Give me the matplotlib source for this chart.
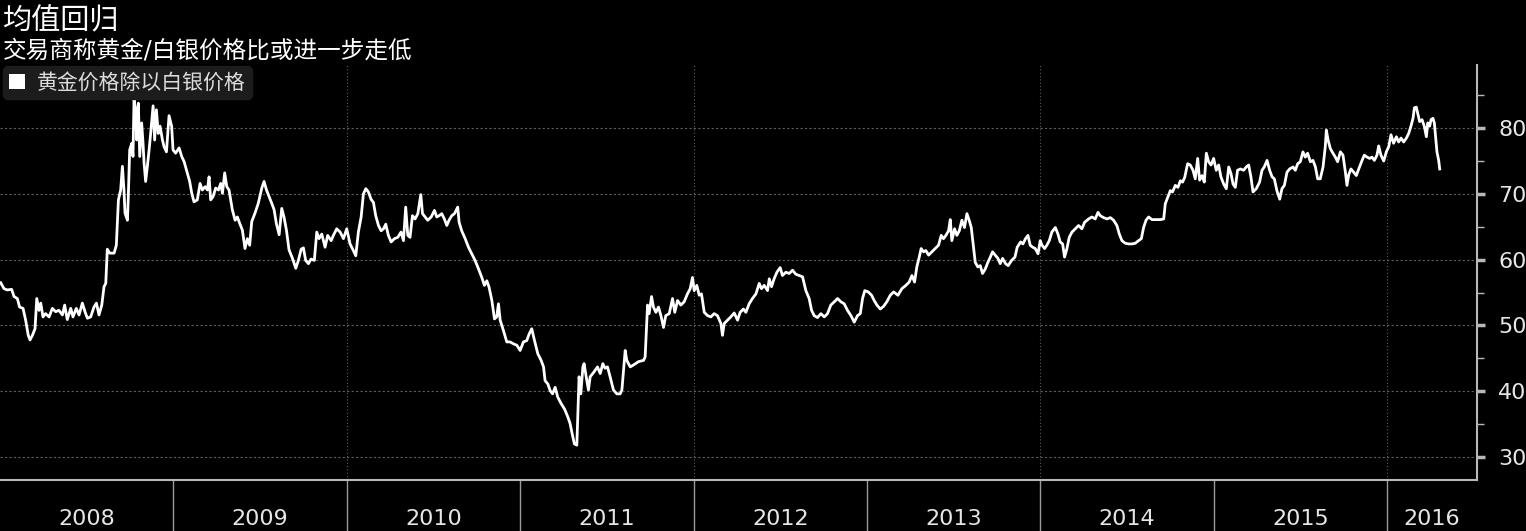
import matplotlib
matplotlib.use("Agg")
import matplotlib.pyplot as plt
from matplotlib.patches import Patch

plt.rcParams["font.family"] = ["DejaVu Sans", "Noto Sans CJK SC"]

title = "均值回归"
subtitle = "交易商称黄金/白银价格比或进一步走低"
series_name = "黄金价格除以白银价格"

# gold / silver price ratio (x in decimal years)
year_frac = [
    2008.004, 2008.023, 2008.042, 2008.067, 2008.081, 2008.100, 2008.113, 2008.133, 2008.148, 2008.163,
    2008.173, 2008.187, 2008.202, 2008.212, 2008.225, 2008.235, 2008.248, 2008.263, 2008.283, 2008.302,
    2008.321, 2008.340, 2008.360, 2008.373, 2008.388, 2008.408, 2008.421, 2008.440, 2008.456, 2008.475,
    2008.490, 2008.504, 2008.523, 2008.542, 2008.556, 2008.571, 2008.587, 2008.600, 2008.610, 2008.619,
    2008.633, 2008.658, 2008.671, 2008.683, 2008.696, 2008.706, 2008.715, 2008.721, 2008.735, 2008.740,
    2008.748, 2008.760, 2008.767, 2008.773, 2008.783, 2008.788, 2008.798, 2008.806, 2008.817, 2008.825,
    2008.831, 2008.840, 2008.850, 2008.860, 2008.869, 2008.883, 2008.892, 2008.902, 2008.913, 2008.923,
    2008.937, 2008.946, 2008.960, 2008.975, 2008.990, 2008.998,
    2009.013, 2009.033, 2009.048, 2009.062, 2009.081, 2009.094, 2009.106, 2009.119, 2009.138, 2009.154,
    2009.167, 2009.183, 2009.196, 2009.206, 2009.215, 2009.229, 2009.244, 2009.260, 2009.273, 2009.283,
    2009.296, 2009.308, 2009.321, 2009.340, 2009.356, 2009.369, 2009.383, 2009.398, 2009.413, 2009.427,
    2009.440, 2009.452, 2009.471, 2009.490, 2009.510, 2009.523, 2009.537, 2009.552, 2009.567, 2009.581,
    2009.594, 2009.610, 2009.625, 2009.638, 2009.652, 2009.667, 2009.687, 2009.706, 2009.721, 2009.737,
    2009.750, 2009.763, 2009.779, 2009.794, 2009.813, 2009.827, 2009.840, 2009.856, 2009.875, 2009.890,
    2009.910, 2009.923, 2009.942, 2009.962, 2009.981,
    2010.000, 2010.019, 2010.038, 2010.052, 2010.067, 2010.083, 2010.096, 2010.110, 2010.125, 2010.140,
    2010.154, 2010.167, 2010.183, 2010.198, 2010.212, 2010.225, 2010.240, 2010.256, 2010.275, 2010.294,
    2010.313, 2010.327, 2010.340, 2010.352, 2010.365, 2010.379, 2010.394, 2010.410, 2010.427, 2010.437,
    2010.452, 2010.467, 2010.487, 2010.506, 2010.519, 2010.533, 2010.548, 2010.563, 2010.577, 2010.590,
    2010.606, 2010.621, 2010.640, 2010.648, 2010.663, 2010.683, 2010.702, 2010.721, 2010.740, 2010.760,
    2010.779, 2010.794, 2010.808, 2010.821, 2010.837, 2010.852, 2010.865, 2010.875, 2010.885, 2010.904,
    2010.923, 2010.942, 2010.962, 2010.981,
    2011.000, 2011.019, 2011.038, 2011.052, 2011.067, 2011.083, 2011.102, 2011.121, 2011.135, 2011.144,
    2011.160, 2011.173, 2011.187, 2011.202, 2011.217, 2011.237, 2011.256, 2011.275, 2011.288, 2011.302,
    2011.313, 2011.327, 2011.333, 2011.340, 2011.350, 2011.362, 2011.369, 2011.381, 2011.394, 2011.404,
    2011.419, 2011.433, 2011.446, 2011.462, 2011.477, 2011.490, 2011.504, 2011.519, 2011.538, 2011.558,
    2011.577, 2011.587, 2011.606, 2011.615, 2011.635, 2011.654, 2011.683, 2011.712, 2011.721, 2011.735,
    2011.744, 2011.758, 2011.769, 2011.783, 2011.798, 2011.812, 2011.827, 2011.840, 2011.860, 2011.879,
    2011.892, 2011.908, 2011.927, 2011.946, 2011.965, 2011.981, 2011.994,
    2012.004, 2012.019, 2012.033, 2012.046, 2012.062, 2012.081, 2012.100, 2012.119, 2012.138, 2012.158,
    2012.167, 2012.177, 2012.196, 2012.215, 2012.235, 2012.254, 2012.269, 2012.288, 2012.302, 2012.321,
    2012.340, 2012.360, 2012.379, 2012.392, 2012.408, 2012.427, 2012.437, 2012.450, 2012.465, 2012.481,
    2012.500, 2012.513, 2012.533, 2012.552, 2012.571, 2012.590, 2012.610, 2012.629, 2012.648, 2012.667,
    2012.681, 2012.696, 2012.715, 2012.735, 2012.754, 2012.773, 2012.792, 2012.812, 2012.831, 2012.850,
    2012.869, 2012.888, 2012.908, 2012.927, 2012.946, 2012.962, 2012.975, 2012.988,
    2013.008, 2013.027, 2013.042, 2013.058, 2013.077, 2013.096, 2013.115, 2013.135, 2013.154, 2013.179,
    2013.202, 2013.225, 2013.244, 2013.260, 2013.275, 2013.288, 2013.302, 2013.313, 2013.327, 2013.340,
    2013.356, 2013.375, 2013.394, 2013.413, 2013.429, 2013.442, 2013.456, 2013.471, 2013.481, 2013.490,
    2013.506, 2013.519, 2013.533, 2013.548, 2013.563, 2013.577, 2013.590, 2013.602, 2013.615, 2013.625,
    2013.640, 2013.654, 2013.667, 2013.683, 2013.698, 2013.712, 2013.725, 2013.740, 2013.756, 2013.769,
    2013.783, 2013.800, 2013.815, 2013.835, 2013.854, 2013.867, 2013.887, 2013.900, 2013.915, 2013.929,
    2013.942, 2013.956, 2013.971, 2013.987,
    2014.000, 2014.010, 2014.025, 2014.038, 2014.052, 2014.067, 2014.087, 2014.102, 2014.115, 2014.129,
    2014.140, 2014.154, 2014.167, 2014.183, 2014.202, 2014.221, 2014.240, 2014.256, 2014.279, 2014.298,
    2014.317, 2014.333, 2014.346, 2014.365, 2014.385, 2014.404, 2014.423, 2014.442, 2014.456, 2014.471,
    2014.490, 2014.510, 2014.529, 2014.548, 2014.567, 2014.583, 2014.596, 2014.610, 2014.625, 2014.644,
    2014.667, 2014.692, 2014.712, 2014.721, 2014.737, 2014.750, 2014.763, 2014.779, 2014.794, 2014.808,
    2014.821, 2014.833, 2014.850, 2014.865, 2014.881, 2014.894, 2014.908, 2014.919, 2014.933, 2014.946,
    2014.958, 2014.971, 2014.985,
    2015.000, 2015.015, 2015.029, 2015.042, 2015.058, 2015.073, 2015.087, 2015.100, 2015.112, 2015.125,
    2015.138, 2015.154, 2015.173, 2015.188, 2015.202, 2015.215, 2015.227, 2015.246, 2015.265, 2015.279,
    2015.292, 2015.308, 2015.323, 2015.337, 2015.350, 2015.365, 2015.381, 2015.394, 2015.408, 2015.423,
    2015.438, 2015.458, 2015.471, 2015.485, 2015.500, 2015.515, 2015.529, 2015.542, 2015.558, 2015.573,
    2015.587, 2015.600, 2015.615, 2015.631, 2015.644, 2015.650, 2015.660, 2015.673, 2015.688, 2015.702,
    2015.715, 2015.731, 2015.746, 2015.760, 2015.769, 2015.779, 2015.792, 2015.808, 2015.823, 2015.837,
    2015.856, 2015.869, 2015.885, 2015.900, 2015.913, 2015.927, 2015.942, 2015.952, 2015.965, 2015.981,
    2015.996,
    2016.010, 2016.023, 2016.038, 2016.054, 2016.067, 2016.081, 2016.096, 2016.112, 2016.125, 2016.138,
    2016.150, 2016.158, 2016.169, 2016.177, 2016.188, 2016.202, 2016.215, 2016.227, 2016.235, 2016.246,
    2016.254, 2016.265, 2016.273, 2016.279, 2016.288, 2016.298, 2016.304,
]

ratio = [
    56.5, 55.6, 55.4, 55.5, 54.4, 54.1, 52.8, 52.6, 50.8, 48.5,
    47.8, 48.5, 49.5, 54.1, 52.3, 53.4, 51.3, 51.8, 51.3, 52.6,
    52.1, 52.3, 51.6, 53.1, 50.9, 52.6, 51.3, 52.6, 51.6, 53.4,
    52.1, 51.1, 51.3, 52.8, 53.4, 51.6, 53.1, 55.9, 56.4, 61.6,
    61.0, 61.0, 62.2, 69.1, 70.6, 74.2, 70.6, 67.1, 66.0, 69.6,
    76.7, 77.7, 75.7, 84.3, 82.8, 78.2, 83.8, 75.7, 80.8, 77.7,
    74.7, 71.9, 74.2, 76.7, 79.2, 83.4, 78.2, 82.8, 79.2, 80.3,
    78.2, 77.2, 76.4, 81.9, 80.3, 76.7,
    76.2, 77.0, 75.7, 74.9, 73.1, 71.9, 70.1, 68.8, 69.1, 71.6,
    70.6, 71.1, 70.6, 72.6, 69.1, 69.6, 70.9, 70.6, 71.6, 70.1,
    73.2, 71.1, 70.6, 67.6, 66.0, 66.5, 65.5, 64.5, 61.7, 63.2,
    62.2, 65.8, 67.1, 68.6, 70.9, 71.9, 70.6, 69.6, 68.6, 67.6,
    65.5, 63.8, 67.8, 66.5, 64.5, 61.5, 60.2, 58.7, 59.9, 61.6,
    61.8, 59.9, 59.4, 60.1, 59.9, 64.2, 63.2, 63.9, 61.9, 63.7,
    62.9, 63.7, 64.7, 64.2, 63.2,
    64.7, 62.4, 61.4, 60.6, 64.2, 66.5, 70.0, 70.8, 70.3, 69.2,
    68.7, 66.7, 65.2, 64.4, 64.7, 65.4, 63.7, 62.7, 63.2, 63.4,
    64.2, 62.9, 68.0, 63.7, 63.4, 66.7, 66.2, 67.0, 69.9, 67.0,
    66.5, 66.0, 66.5, 67.5, 66.5, 66.7, 67.0, 66.2, 65.2, 66.0,
    66.7, 67.0, 68.0, 65.7, 64.4, 63.2, 61.9, 60.9, 59.9, 58.6,
    57.3, 56.1, 56.8, 55.8, 53.8, 51.0, 51.3, 53.3, 50.8, 49.2,
    47.5, 47.5, 47.2, 47.0,
    46.2, 47.5, 47.7, 48.7, 49.5, 47.7, 45.7, 44.7, 43.7, 41.6,
    41.1, 40.1, 39.6, 40.6, 39.1, 38.1, 37.3, 36.1, 35.1, 33.3,
    32.0, 31.8, 36.6, 42.2, 39.6, 43.7, 44.2, 42.2, 40.2, 42.2,
    42.7, 43.2, 43.7, 42.7, 44.2, 43.5, 43.7, 42.2, 40.2, 39.6,
    39.6, 40.2, 46.2, 44.7, 43.7, 44.0, 44.5, 44.7, 45.2, 53.1,
    51.8, 54.4, 52.8, 52.0, 52.8, 51.5, 49.7, 51.5, 51.8, 54.1,
    52.0, 53.8, 53.1, 53.6, 54.8, 55.6, 57.3,
    55.3, 56.1, 54.6, 54.8, 52.0, 51.5, 51.3, 51.8, 51.5, 50.3,
    48.5, 50.3, 50.8, 51.3, 51.9, 50.8, 52.0, 52.5, 52.0, 53.3,
    54.1, 54.8, 56.4, 55.6, 56.1, 55.3, 57.1, 55.9, 57.1, 58.1,
    58.8, 57.6, 58.1, 57.9, 58.4, 57.8, 57.6, 57.4, 55.3, 54.1,
    52.3, 51.5, 51.2, 51.8, 51.3, 51.8, 53.1, 53.6, 54.1, 53.6,
    53.3, 52.3, 51.5, 50.5, 51.5, 51.8, 54.1, 55.3,
    55.1, 54.6, 53.8, 53.1, 52.5, 52.9, 53.6, 54.6, 55.1, 54.6,
    55.6, 56.1, 56.6, 57.6, 56.6, 58.9, 60.4, 61.7, 61.2, 61.4,
    60.7, 61.2, 61.7, 62.2, 63.7, 63.2, 63.7, 64.4, 66.1, 62.9,
    64.7, 63.7, 64.4, 66.0, 64.9, 67.0, 66.0, 64.9, 61.9, 59.6,
    58.9, 59.1, 57.9, 58.6, 59.6, 60.4, 61.2, 60.7, 60.2, 59.4,
    60.2, 59.4, 59.1, 59.9, 60.4, 61.9, 62.7, 62.4, 63.2, 63.7,
    62.2, 61.9, 61.7, 60.9,
    62.9, 62.2, 61.7, 62.2, 62.9, 64.2, 64.9, 63.9, 62.7, 62.4,
    60.4, 61.7, 63.4, 64.2, 64.7, 65.2, 64.7, 65.7, 66.2, 66.5,
    66.2, 67.2, 66.7, 66.4, 66.2, 66.4, 66.0, 65.2, 63.9, 62.9,
    62.5, 62.4, 62.4, 62.5, 62.9, 63.2, 64.9, 66.0, 66.5, 66.1,
    66.1, 66.1, 66.2, 68.5, 69.6, 70.5, 70.3, 71.3, 71.0, 72.0,
    71.8, 72.5, 74.6, 74.4, 73.6, 72.3, 75.4, 72.1, 72.8, 71.8,
    76.2, 74.9, 74.4,
    75.4, 73.6, 74.4, 72.6, 71.5, 70.8, 74.1, 73.1, 71.5, 71.0,
    73.6, 73.8, 73.6, 74.1, 74.4, 72.6, 70.3, 70.8, 71.8, 73.6,
    74.1, 75.1, 73.6, 72.6, 72.3, 70.5, 69.2, 70.8, 71.3, 73.3,
    73.8, 74.1, 73.6, 74.6, 74.9, 76.4, 75.6, 76.2, 74.9, 75.1,
    74.1, 72.3, 72.3, 74.1, 77.2, 79.7, 78.2, 76.9, 76.2, 75.6,
    74.9, 76.4, 75.9, 73.3, 71.3, 72.9, 73.8, 73.3, 72.8, 73.8,
    75.1, 75.9, 75.6, 75.4, 75.6, 75.1, 75.9, 77.3, 75.9, 75.0,
    76.4,
    77.2, 79.0, 77.7, 78.7, 77.9, 78.5, 77.9, 78.5, 79.2, 80.3,
    81.5, 83.1, 83.2, 82.3, 81.0, 81.3, 80.3, 78.7, 80.8, 80.3,
    81.3, 81.5, 80.8, 79.0, 76.4, 75.1, 73.8,
]

year_starts = [2009, 2010, 2011, 2012, 2013, 2014, 2015, 2016]
year_labels = ["2008", "2009", "2010", "2011", "2012", "2013", "2014", "2015", "2016"]
grid_years = [2010, 2012, 2014, 2016]
y_major = [30, 40, 50, 60, 70, 80]
y_minor = [35, 45, 55, 65, 75, 85]

x_min, x_max = 2008.0, 2016.52

fig = plt.figure(figsize=(15.26, 5.31), dpi=100, facecolor="black")
ax = fig.add_axes([0.0, 0.096, 0.968, 0.7815])
ax.set_facecolor("black")

ax.plot(year_frac, ratio, color="white", lw=2.0, solid_joinstyle="round", zorder=3)

ax.set_xlim(x_min, x_max)
ax.set_ylim(26.5, 89.6)

for side in ["left", "top"]:
    ax.spines[side].set_visible(False)
for side in ["right", "bottom"]:
    ax.spines[side].set_color("#b8b8b8")
    ax.spines[side].set_linewidth(1.5)

# right-hand value axis
ax.yaxis.tick_right()
ax.set_yticks(y_major)
ax.set_yticks(y_minor, minor=True)
ax.tick_params(axis="y", which="major", direction="out", length=6, width=2.5,
               color="#b8b8b8", labelcolor="#e6e6e6", labelsize=16, pad=9)
ax.tick_params(axis="y", which="minor", direction="out", length=5, width=1, color="#b8b8b8")
ax.grid(axis="y", which="major", color="#5e5e5e", ls=(0, (2, 2)), lw=0.8)

# year separators below the axis, labels centred in each year
ax.set_xticks(year_starts)
ax.set_xticklabels([])
centres = [y + 0.5 for y in range(2008, 2016)] + [(2016 + x_max) / 2]
ax.set_xticks(centres, minor=True)
ax.set_xticklabels(year_labels, minor=True)
ax.tick_params(axis="x", which="major", direction="out", length=38, width=1, color="#9a9a9a")
ax.tick_params(axis="x", which="minor", length=0, pad=21, labelsize=16, labelcolor="#e6e6e6")
for yr in grid_years:
    ax.axvline(yr, color="#5e5e5e", ls=(0, (1, 2)), lw=0.8, zorder=1)

leg = ax.legend(handles=[Patch(facecolor="white", edgecolor="none", label=series_name)],
                loc="upper left", bbox_to_anchor=(0.002, 0.997), borderaxespad=0,
                frameon=True, facecolor="#1c1c1c", edgecolor="#1c1c1c", framealpha=1,
                fontsize=15, labelcolor="#dddddd", handlelength=0.75, handleheight=0.75,
                handletextpad=0.6, borderpad=0.3)
leg.get_frame().set_boxstyle("round", pad=0, rounding_size=0.25)

fig.text(0.002, 1 - 29 / 531, title, fontsize=21, color="white", va="baseline", ha="left")
fig.text(0.002, 1 - 57 / 531, subtitle, fontsize=17, color="white", va="baseline", ha="left")

fig.savefig("out.png", dpi=100, facecolor="black")
